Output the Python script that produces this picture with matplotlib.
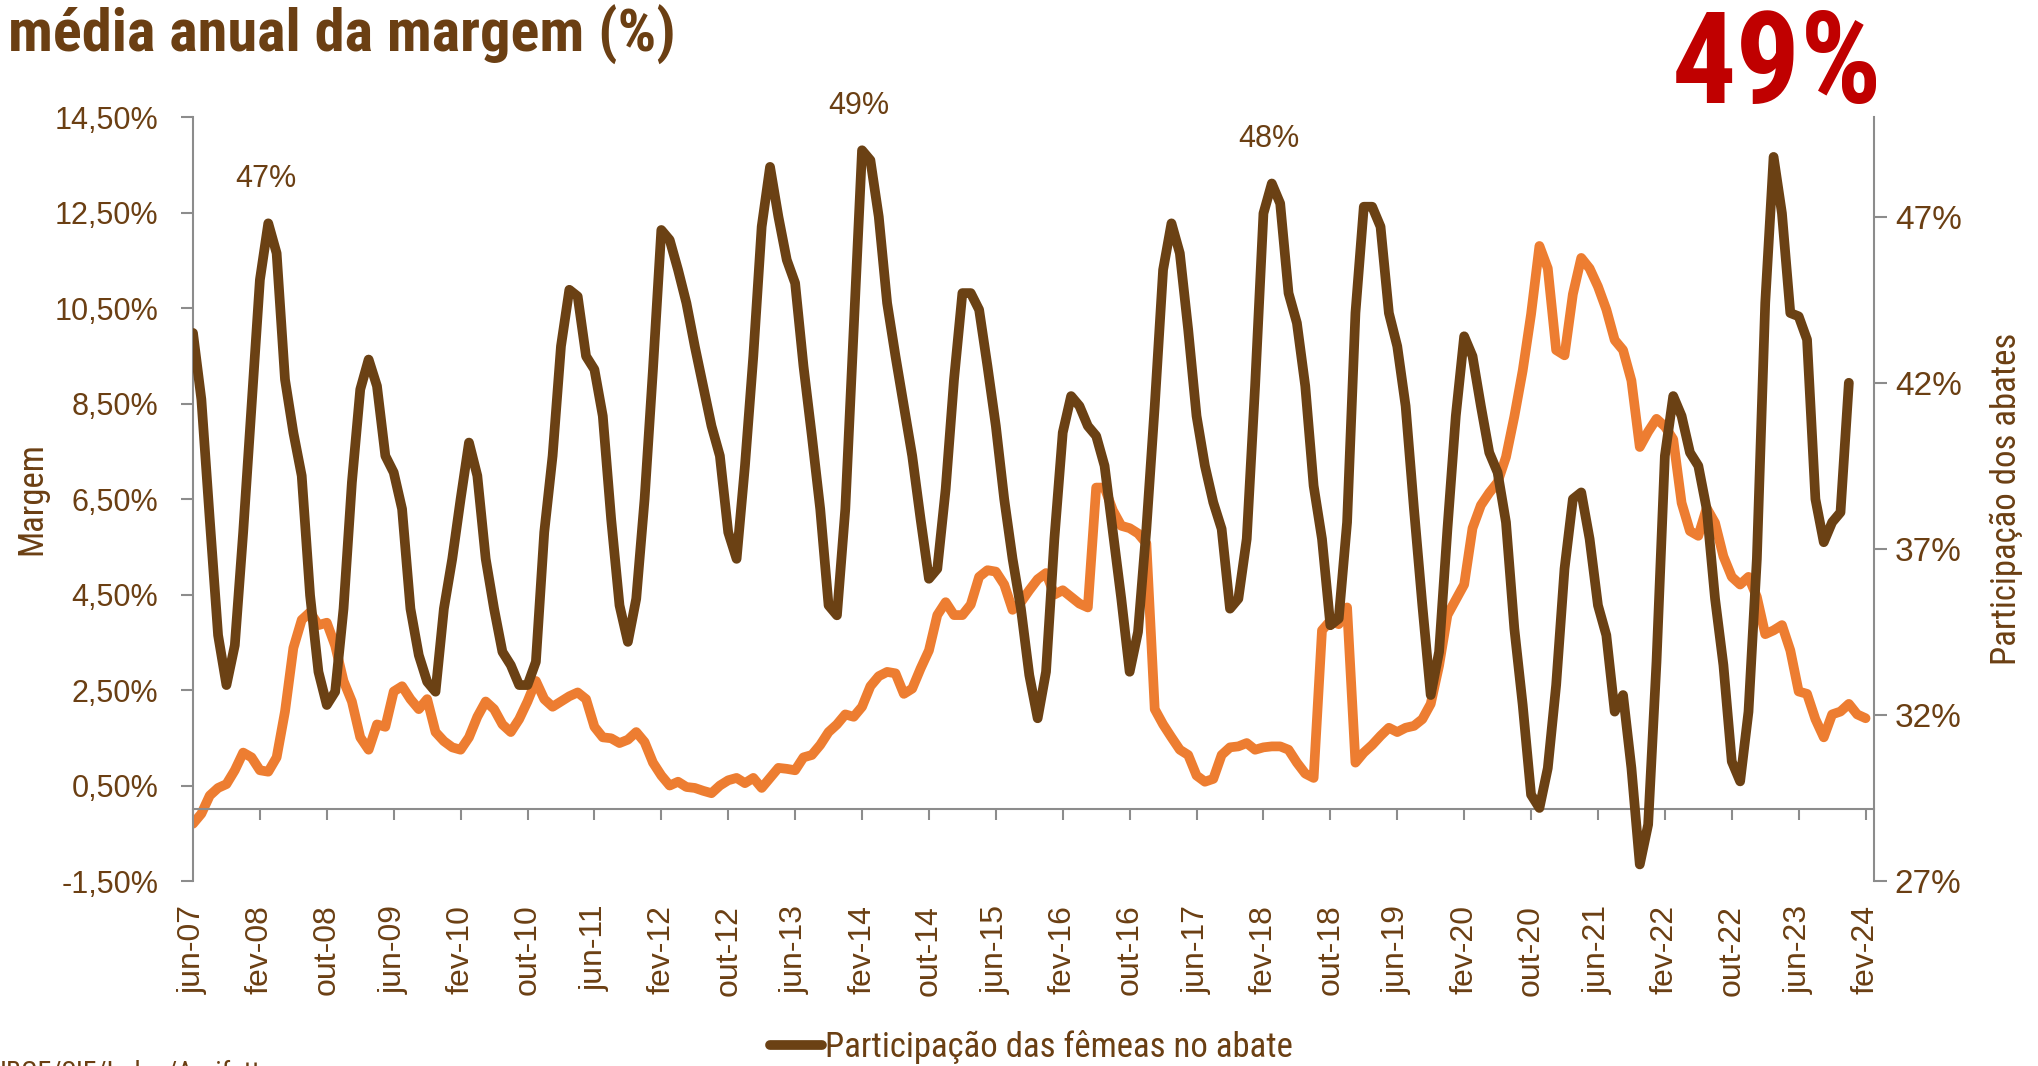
import matplotlib
matplotlib.use("Agg")
import matplotlib.pyplot as plt
from matplotlib import font_manager as fm
import pandas as pd

# monthly series, jun-07 onwards
start_month = "2007-06"
# Participacao das femeas no abate (%), right axis
femeas = [43.5, 41.5, 37.9, 34.4, 32.9, 34.1, 37.5, 41.3, 45.1, 46.8,
          45.9, 42.1, 40.5, 39.2, 35.6, 33.3, 32.3, 32.7, 35.2, 39.0,
          41.8, 42.7, 41.9, 39.8, 39.3, 38.2, 35.2, 33.8, 33.0, 32.7,
          35.2, 36.7, 38.5, 40.2, 39.2, 36.7, 35.2, 33.9, 33.5, 32.9,
          32.9, 33.6, 37.5, 39.8, 43.1, 44.8, 44.6, 42.8, 42.4, 41.0,
          37.9, 35.3, 34.2, 35.5, 38.5, 42.4, 46.6, 46.3, 45.4, 44.4,
          43.1, 41.9, 40.7, 39.8, 37.5, 36.7, 39.5, 42.8, 46.7, 48.5,
          47.0, 45.7, 45.0, 42.5, 40.4, 38.2, 35.3, 35.0, 38.2, 43.6,
          49.0, 48.7, 47.0, 44.4, 42.8, 41.3, 39.8, 37.9, 36.1, 36.4,
          38.8, 42.1, 44.7, 44.7, 44.2, 42.5, 40.7, 38.5, 36.7, 35.2,
          33.2, 31.9, 33.3, 37.3, 40.5, 41.6, 41.3, 40.7, 40.4, 39.5,
          37.5, 35.5, 33.3, 34.5, 37.6, 41.3, 45.4, 46.8, 45.9, 43.6,
          41.0, 39.5, 38.4, 37.6, 35.2, 35.5, 37.3, 41.9, 47.1, 48.0,
          47.4, 44.7, 43.8, 41.9, 38.9, 37.3, 34.7, 34.9, 37.8, 44.1,
          47.3, 47.3, 46.7, 44.1, 43.1, 41.3, 38.2, 35.3, 32.6, 33.9,
          37.6, 41.0, 43.4, 42.8, 41.3, 39.9, 39.3, 37.8, 34.6, 32.3,
          29.6, 29.2, 30.4, 32.9, 36.4, 38.5, 38.7, 37.3, 35.3, 34.4,
          32.1, 32.6, 30.4, 27.5, 28.7, 33.6, 39.8, 41.6, 41.0, 39.9,
          39.5, 38.2, 35.5, 33.5, 30.6, 30.0, 32.1, 36.7, 44.4, 48.8,
          47.1, 44.1, 44.0, 43.3, 38.5, 37.2, 37.8, 38.1, 42.0]

# media anual da margem (%), left axis
margem = [-0.30, -0.09, 0.29, 0.45, 0.53, 0.82, 1.19, 1.09, 0.82, 0.79,
          1.09, 2.05, 3.38, 3.97, 4.13, 3.86, 3.91, 3.43, 2.69, 2.26,
          1.51, 1.25, 1.78, 1.73, 2.47, 2.58, 2.31, 2.10, 2.31, 1.62,
          1.43, 1.30, 1.25, 1.51, 1.94, 2.26, 2.10, 1.78, 1.62, 1.89,
          2.26, 2.69, 2.31, 2.15, 2.26, 2.37, 2.45, 2.31, 1.73, 1.51,
          1.49, 1.39, 1.46, 1.62, 1.41, 0.98, 0.71, 0.50, 0.58, 0.47,
          0.45, 0.39, 0.34, 0.50, 0.61, 0.66, 0.55, 0.66, 0.45, 0.66,
          0.87, 0.85, 0.82, 1.09, 1.14, 1.35, 1.62, 1.78, 1.99, 1.94,
          2.15, 2.58, 2.79, 2.88, 2.85, 2.42, 2.53, 2.95, 3.33, 4.07,
          4.34, 4.07, 4.07, 4.29, 4.87, 5.01, 4.98, 4.71, 4.18, 4.34,
          4.59, 4.82, 4.95, 4.50, 4.59, 4.45, 4.31, 4.23, 6.74, 6.74,
          6.26, 5.94, 5.89, 5.78, 5.57, 2.10, 1.78, 1.51, 1.25, 1.14,
          0.71, 0.58, 0.64, 1.14, 1.30, 1.32, 1.39, 1.25, 1.30, 1.32,
          1.32, 1.25, 0.98, 0.75, 0.66, 3.75, 3.95, 3.88, 4.23, 0.98,
          1.19, 1.35, 1.54, 1.71, 1.62, 1.71, 1.75, 1.89, 2.21, 3.01,
          4.07, 4.39, 4.71, 5.89, 6.37, 6.63, 6.85, 7.38, 8.23, 9.19,
          10.37, 11.80, 11.33, 9.62, 9.51, 10.79, 11.55, 11.33, 10.95, 10.47,
          9.83, 9.62, 8.98, 7.59, 7.91, 8.18, 8.02, 7.75, 6.42, 5.83,
          5.73, 6.31, 6.00, 5.30, 4.87, 4.71, 4.87, 4.45, 3.67, 3.75,
          3.86, 3.33, 2.47, 2.42, 1.89, 1.51, 1.99, 2.05, 2.21, 1.99,
          1.91]

meses_pt = ["jan", "fev", "mar", "abr", "mai", "jun",
            "jul", "ago", "set", "out", "nov", "dez"]
margem_ticks = [-1.5, 0.5, 2.5, 4.5, 6.5, 8.5, 10.5, 12.5, 14.5]
femeas_ticks = [27, 32, 37, 42, 47]
picos = [(9, "47%"), (80, "49%"), (129, "48%")]

BROWN = "#6B4114"
TXT = "#6B3F13"
ORANGE = "#ED7D31"
GRID = "#8C8C8C"

names = {f.name for f in fm.fontManager.ttflist}
NARROW = "Roboto Condensed" if "Roboto Condensed" in names else "Liberation Sans"
plt.rcParams["font.family"] = ["Liberation Sans", "DejaVu Sans"]

periods = pd.period_range(start_month, periods=len(margem), freq="M")
x_m = list(range(len(margem)))
x_f = list(range(len(femeas)))
tick_pos = list(range(0, len(periods), 8))
tick_lab = [f"{meses_pt[periods[i].month - 1]}-{periods[i].year % 100:02d}" for i in tick_pos]

fig = plt.figure(figsize=(20.38, 10.66), dpi=100)
ax = fig.add_axes([0.0947, 0.1735, 0.8248, 0.7167])
ax2 = ax.twinx()

ax.plot(x_m, margem, color=ORANGE, lw=7, solid_capstyle="round",
        solid_joinstyle="round", label="Margem")
ax2.plot(x_f, femeas, color=BROWN, lw=7, solid_capstyle="round",
         solid_joinstyle="round", label="Participação das fêmeas no abate")

ax.set_xlim(0, 201)
ax.set_ylim(-1.5, 14.5)
ax2.set_ylim(27, 50)

# left axis
ax.set_yticks(margem_ticks)
ax.set_yticklabels([f"{v:.2f}".replace(".", ",") + "%" for v in margem_ticks])
ax.tick_params(axis="y", direction="out", length=9, width=1.5, color=GRID,
               labelcolor=TXT, labelsize=22, pad=16)
ax.spines["left"].set_color(GRID)
ax.spines["left"].set_linewidth(1.5)
ax.spines["top"].set_visible(False)
ax.spines["right"].set_visible(False)

# category axis crosses at zero
ax.spines["bottom"].set_position(("data", 0))
ax.spines["bottom"].set_color(GRID)
ax.spines["bottom"].set_linewidth(1.5)
ax.set_xticks(tick_pos)
ax.tick_params(axis="x", direction="out", length=8, width=1.5, color=GRID,
               labelbottom=False)

sec = ax.secondary_xaxis("bottom")
sec.set_xticks(tick_pos)
sec.set_xticklabels(tick_lab, rotation=90)
sec.tick_params(length=0, pad=17, labelsize=23, labelcolor=TXT)
sec.spines["bottom"].set_visible(False)

# right axis
ax2.set_yticks(femeas_ticks)
ax2.set_yticklabels([f"{v}%" for v in femeas_ticks])
ax2.tick_params(axis="y", direction="out", length=9, width=1.5, color=GRID,
                labelcolor=TXT, labelsize=24, pad=6)
for s in ["top", "left", "bottom"]:
    ax2.spines[s].set_visible(False)
ax2.spines["right"].set_color(GRID)
ax2.spines["right"].set_linewidth(1.5)

ax.set_ylabel("Margem", fontfamily=NARROW, fontsize=25, color=TXT, labelpad=4)
ax2.set_ylabel("Participação dos abates", fontfamily=NARROW, fontsize=25,
               color=TXT, labelpad=20)

for i, txt in picos:
    ax2.annotate(txt, xy=(i, femeas[i]), xytext=(-2, 32), textcoords="offset points",
                 ha="center", va="center", fontsize=22, color=TXT,
                 annotation_clip=False)

fig.text(0.004, 0.995, "média anual da margem (%)", fontfamily=NARROW,
         fontweight="bold", fontsize=43.5, color=TXT, ha="left", va="top")
fig.text(0.872, 0.903, "49%", fontfamily=NARROW, fontweight="bold",
         fontsize=92, color="#C00000", ha="center", va="baseline")

h, l = ax2.get_legend_handles_labels()
fig.legend(h, l, loc="center", bbox_to_anchor=(0.506, 0.018), frameon=False,
           handlelength=1.5, handletextpad=0.1,
           prop={"family": NARROW, "size": 25}, labelcolor=TXT)

fig.text(0.0, 0.006, "IBGE/SIF/Indea/Agrifatto", fontfamily=NARROW,
         fontsize=20, color=TXT, ha="left", va="top")

fig.savefig("out.png", dpi=100)
